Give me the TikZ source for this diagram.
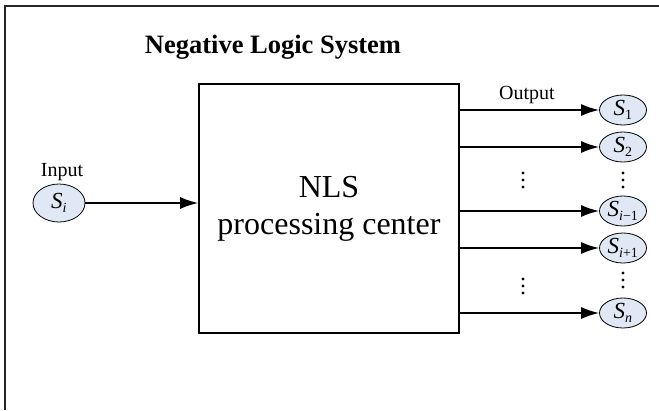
\documentclass[tikz,border=0pt]{standalone}
\usepackage{fontspec}
\setmainfont{Liberation Serif}
\usetikzlibrary{arrows.meta,shapes.geometric}
\definecolor{bubble}{RGB}{224,232,245}
\tikzset{
  sig/.style={ellipse, draw, line width=0.8pt, fill=bubble, minimum width=47, minimum height=30, inner sep=0pt},
  flow/.style={-{Latex[length=18pt,width=12pt]}, line width=1.6pt},
}
\newcommand{\sym}[1]{\fontsize{23}{23}\selectfont\itshape S\textsubscript{\upshape\fontsize{14}{14}\selectfont #1}}
\begin{document}
\begin{tikzpicture}[x=1pt,y=-1pt]
        \useasboundingbox (0,0) rectangle (659,410);
        \draw[line width=1.8pt, color=black!85] (5,410) -- (5,6) -- (659,6);
        \node[font=\fontsize{26.5}{30}\selectfont\bfseries] (title) at (273,47) {Negative Logic System};
        \node[draw, line width=1.6pt, minimum width=260, minimum height=249, align=center,
              font=\fontsize{32}{37}\selectfont] (nls) at (329,208.5) {NLS\\processing center};
        % input side
        \node[sig, minimum width=52, minimum height=38] (si) at (59,203) {\sym{\textit{i}}};
        \node[font=\fontsize{20}{20}\selectfont] (in) at (62,172) {Input};
        \draw[flow] (si) -- (si -| nls.west);
        % output side
        \node[font=\fontsize{20}{20}\selectfont] (out) at (527,95) {Output};
        \foreach \y/\n/\sub in {110/1/1, 147/2/2, 211/3/\textit{i}−1, 248/4/\textit{i}+1, 313/5/\textit{n}} {
            \node[sig] (s\n) at (623,\y) {\sym{\sub}};
            \draw[flow] (nls.east |- s\n) -- (s\n);
        }
        % vertical dots
        \foreach \x/\y/\n in {523/180/a, 523/286/b, 623/180/c, 623/280/d} {
            \coordinate (dots\n) at (\x,\y);
            \foreach \dy in {-7, 0, 7}
                \fill ([yshift=-\dy pt]dots\n) circle (1.6pt);
        }
    \end{tikzpicture}
\end{document}
